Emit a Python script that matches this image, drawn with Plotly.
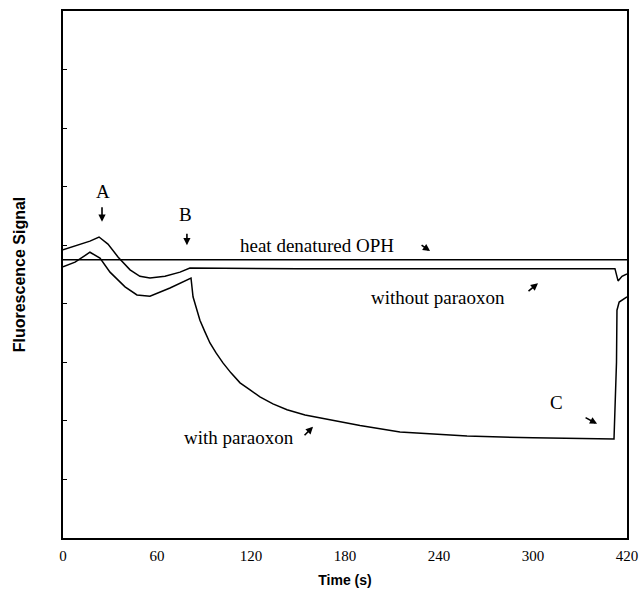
import plotly.graph_objects as go

# ---- data ----
time_heat = [0, 360]
signal_heat = [4.75, 4.75]

time_without = [0, 7.7, 17.2, 23, 28.7, 35.1, 42.8, 49.1, 55.5, 65.1, 74.7, 81, 150, 250, 352.3, 354.3, 356.8, 360]
signal_without = [4.92, 4.99, 5.07, 5.14, 5.02, 4.80, 4.58, 4.47, 4.44, 4.47, 4.54, 4.61, 4.60, 4.60, 4.60, 4.39, 4.47, 4.51]

time_with = [0, 7.7, 17.2, 23.6, 30, 39.6, 47.2, 55.5, 68.3, 81.7, 83, 84.9, 87.4, 90.6, 93.8, 97.7, 102.1,
             107.2, 113, 119.4, 125.7, 134.0, 143, 154.5, 168.5, 189.6, 215.1, 257.9, 300, 351.7,
             353.3, 353.6, 355, 360]
signal_with = [4.63, 4.71, 4.88, 4.78, 4.54, 4.29, 4.15, 4.13, 4.27, 4.44, 4.12, 3.93, 3.72, 3.52, 3.33, 3.16, 2.99,
               2.82, 2.65, 2.53, 2.41, 2.29, 2.19, 2.10, 2.03, 1.92, 1.81, 1.74, 1.71, 1.69,
               3.0, 3.89, 4.03, 4.12]

x_tickvals = [0, 60, 120, 180, 240, 300, 360]
x_ticktext = ["0", "60", "120", "180", "240", "300", "420"]
y_tickvals = [1, 2, 3, 4, 5, 6, 7, 8]

line_style = dict(color="black", width=1.5)

fig = go.Figure()
for xs, ys, name in [(time_heat, signal_heat, "heat denatured OPH"),
                     (time_without, signal_without, "without paraoxon"),
                     (time_with, signal_with, "with paraoxon")]:
    fig.add_trace(go.Scatter(x=xs, y=ys, mode="lines", line=line_style, name=name,
                             showlegend=False))

serif = "Liberation Serif, Times New Roman, serif"
sans = "Liberation Sans, Arial, sans-serif"
txt_font = dict(family=serif, size=19, color="black")

labels = [
    ("A", 25.5, 5.91),
    ("B", 77.9, 5.52),
    ("heat denatured OPH", 162.1, 5.00),
    ("without paraoxon", 239.4, 4.10),
    ("with paraoxon", 112.3, 1.71),
    ("C", 315.3, 2.32),
]
for t, x, y in labels:
    fig.add_annotation(x=x, y=y, text=t, showarrow=False, font=txt_font,
                       xanchor="center", yanchor="middle")

arrows = [
    (24.9, 5.40, 0, -16),
    (79.1, 5.00, 0, -13),
    (234.3, 4.90, -10, -7),
    (303.2, 4.35, -11, 9),
    (159.6, 1.90, -10, 10),
    (340.9, 1.95, -13, -7),
]
for x, y, ax, ay in arrows:
    fig.add_annotation(x=x, y=y, ax=ax, ay=ay, text="", showarrow=True,
                       arrowhead=2, arrowsize=0.9, arrowwidth=1.6, arrowcolor="black")

fig.update_layout(
    width=642, height=590,
    margin=dict(l=63, r=15, t=11, b=52),
    plot_bgcolor="white", paper_bgcolor="white",
    xaxis=dict(range=[0, 360], tickvals=x_tickvals, ticktext=x_ticktext,
               showline=True, linecolor="black", linewidth=2, mirror=True,
               showgrid=False, zeroline=False, ticks="", ticklabelstandoff=3,
               automargin=False, ticklabeloverflow="allow",
               tickfont=dict(family=serif, size=15, color="black"),
               title=dict(text="<b>Time (s)</b>", standoff=12,
                          font=dict(family=sans, size=14, color="black"))),
    yaxis=dict(range=[0, 9], tickvals=y_tickvals, showticklabels=False,
               showline=True, linecolor="black", linewidth=2, mirror=True,
               showgrid=False, zeroline=False, ticks="inside", ticklen=4, tickcolor="black",
               automargin=False,
               title=dict(text="<b>Fluorescence Signal</b>", standoff=31,
                          font=dict(family=sans, size=16, color="black"))),
)

fig.write_html("out.html", config={"displayModeBar": False},
               post_script="document.body.style.margin='0';document.body.style.overflow='hidden';")
